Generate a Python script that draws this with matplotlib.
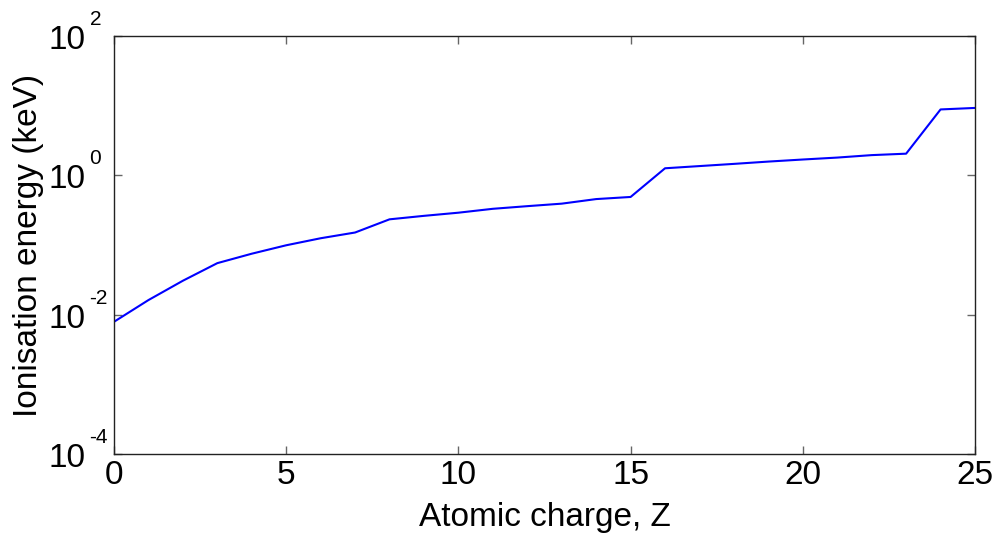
import numpy as np
import matplotlib
matplotlib.use("Agg")
import matplotlib.pyplot as plt
from matplotlib.ticker import FixedLocator, NullLocator

plt.rcParams['font.family'] = ['Liberation Sans', 'DejaVu Sans']

# Fe ionisation energies (eV) by atomic charge
charge = list(range(26))
energy_ev = [7.9, 16.2, 30.7, 54.9, 75.0, 99.1, 125.0, 151.1, 233.6, 262.1,
             290.9, 330.8, 361.0, 392.2, 456.2, 489.3, 1262.7, 1357.8, 1460.0,
             1575.6, 1687.0, 1798.4, 1950.4, 2045.8, 8828.2, 9277.7]
energy_kev = np.array(energy_ev) / 1000.0

x_ticks = [0, 5, 10, 15, 20, 25]
y_exps = [-4, -2, 0, 2]

fig = plt.figure(figsize=(9.97, 5.39), dpi=100)
# axes box: x 114..975 px, y 36..454 px
ax = fig.add_axes([114 / 997, 1 - 454 / 539, 861 / 997, 418 / 539])

ax.semilogy(charge, energy_kev, color='#0000ff', linewidth=1.5)

ax.set_xlim(0, 25)
ax.set_ylim(1e-4, 1e2)
ax.xaxis.set_major_locator(FixedLocator(x_ticks))
ax.yaxis.set_major_locator(FixedLocator([10.0 ** e for e in y_exps]))
ax.yaxis.set_minor_locator(NullLocator())

ax.tick_params(which='both', direction='in', top=True, right=True,
               length=6, width=1, color='#666666', labelsize=24, pad=4)
ax.tick_params(axis='y', labelleft=False)
for s in ax.spines.values():
    s.set_linewidth(1)
    s.set_color('#222222')

# y tick labels as 10 with small raised exponent (matlab look)
for e in y_exps:
    ax.annotate('10', xy=(0, 10.0 ** e), xycoords=('axes fraction', 'data'),
                xytext=(-20.2, -9.4), textcoords='offset points',
                ha='right', va='baseline', fontsize=24)
    ax.annotate(str(e), xy=(0, 10.0 ** e), xycoords=('axes fraction', 'data'),
                xytext=(-17.6, 7.9), textcoords='offset points',
                ha='left', va='baseline', fontsize=15)

ax.set_xlabel('Atomic charge, Z', fontsize=24)
ax.xaxis.set_label_coords(0.5, -0.115)
ax.set_ylabel('Ionisation energy (keV)', fontsize=24, va='center')
ax.yaxis.set_label_coords(-0.099, 0.5)

fig.savefig('out.png', dpi=100)
